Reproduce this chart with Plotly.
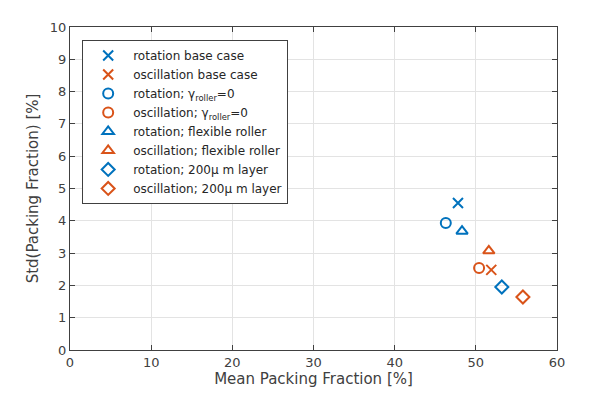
import plotly.graph_objects as go

BLUE = '#0072BD'
ORANGE = '#D95319'

labels = [
    'rotation base case',
    'oscillation base case',
    'rotation; γ<sub>roller</sub>=0',
    'oscillation; γ<sub>roller</sub>=0',
    'rotation; flexible roller',
    'oscillation; flexible roller',
    'rotation; 200μ m layer',
    'oscillation; 200μ m layer',
]
mean_pf = [47.8, 51.9, 46.3, 50.4, 48.3, 51.6, 53.2, 55.8]
std_pf = [4.55, 2.48, 3.93, 2.54, 3.68, 3.07, 1.95, 1.64]
symbols = ['x-thin-open', 'x-thin-open', 'circle-open', 'circle-open',
           'triangle-up-open', 'triangle-up-open', 'diamond-open', 'diamond-open']
colors = [BLUE, ORANGE] * 4

fig = go.Figure()
for name, x, y, sym, col in zip(labels, mean_pf, std_pf, symbols, colors):
    fig.add_trace(go.Scatter(
        x=[x], y=[y], mode='markers', name=name,
        marker=dict(symbol=sym, size=10, color=col, line=dict(color=col, width=2)),
    ))

axis_common = dict(
    showgrid=True, gridcolor='#e3e3e3', gridwidth=1,
    showline=True, linecolor='#404040', linewidth=1, mirror='ticks',
    ticks='inside', ticklen=5, tickcolor='#404040',
    tickfont=dict(size=13, color='#404040'),
    zeroline=False,
)

# page body adds an 8px offset, so the figure is drawn slightly smaller
fig.update_layout(
    width=590, height=386,
    paper_bgcolor='white', plot_bgcolor='white',
    font=dict(family='DejaVu Sans', color='#404040'),
    margin=dict(l=62, r=41, t=19, b=44),
    xaxis=dict(range=[0, 60], dtick=10,
               title=dict(text='Mean Packing Fraction [%]', font=dict(size=15), standoff=3),
               **axis_common),
    yaxis=dict(range=[0, 10], dtick=1,
               title=dict(text='Std(Packing Fraction) [%]', font=dict(size=15), standoff=7),
               **axis_common),
    legend=dict(x=0.025, y=0.96, xanchor='left', yanchor='top',
                bgcolor='white', bordercolor='#404040', borderwidth=1,
                font=dict(size=12, color='#262626'), tracegroupgap=0,
                itemwidth=40),
    showlegend=True,
)

fig.write_html('out.html')
